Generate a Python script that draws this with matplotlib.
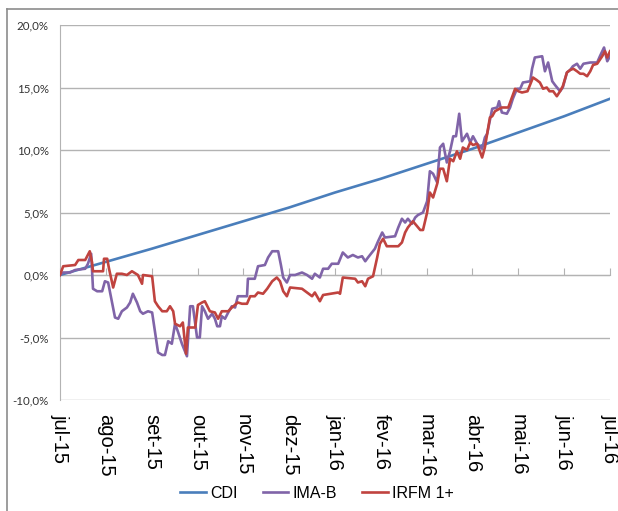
import matplotlib
matplotlib.use("Agg")
import matplotlib.pyplot as plt
from matplotlib.lines import Line2D
from matplotlib.ticker import FuncFormatter

# x values are months since jul-15 (0 = jul-15, 12 = jul-16), y values in %
month_labels = ["jul-15", "ago-15", "set-15", "out-15", "nov-15", "dez-15", "jan-16",
                "fev-16", "mar-16", "abr-16", "mai-16", "jun-16", "jul-16"]

cdi_x = [0, 1, 2, 3, 4, 5, 6, 7, 8, 9, 10, 11, 12]
cdi_y = [0.0, 1.05, 2.1, 3.2, 4.3, 5.4, 6.6, 7.7, 8.9, 10.1, 11.4, 12.7, 14.1]

imab_x = [0, 0.07, 0.22, 0.33, 0.55, 0.61, 0.68, 0.72, 0.81, 0.92, 0.98, 1.05, 1.13, 1.20,
          1.27, 1.35, 1.46, 1.53, 1.59, 1.68, 1.75, 1.81, 1.92, 2.01, 2.07, 2.14, 2.23, 2.29,
          2.36, 2.44, 2.51, 2.57, 2.66, 2.77, 2.84, 2.90, 2.99, 3.05, 3.10, 3.16, 3.23, 3.32,
          3.38, 3.43, 3.49, 3.53, 3.60, 3.67, 3.75, 3.82, 3.88, 4.08, 4.10, 4.25, 4.32, 4.47,
          4.54, 4.63, 4.76, 4.82, 4.87, 4.95, 5.02, 5.13, 5.28, 5.39, 5.50, 5.56, 5.67, 5.74,
          5.85, 5.93, 6.07, 6.17, 6.28, 6.39, 6.50, 6.59, 6.66, 6.72, 6.87, 6.94, 7.03, 7.09,
          7.31, 7.38, 7.46, 7.53, 7.59, 7.68, 7.75, 7.81, 7.92, 8.01, 8.07, 8.14, 8.23, 8.29,
          8.36, 8.44, 8.51, 8.58, 8.64, 8.71, 8.77, 8.88, 8.95, 9.01, 9.10, 9.21, 9.27, 9.32,
          9.43, 9.54, 9.58, 9.64, 9.75, 9.82, 9.88, 9.97, 10.04, 10.10, 10.26, 10.30, 10.36,
          10.52, 10.58, 10.65, 10.74, 10.80, 10.91, 10.97, 11.06, 11.13, 11.19, 11.28, 11.35,
          11.42, 11.57, 11.72, 11.78, 11.87, 11.94, 12.0]
imab_y = [0.0, 0.2, 0.2, 0.4, 0.5, 0.9, 1.7, -1.1, -1.3, -1.3, -0.5, -0.6, -2.1, -3.4,
          -3.5, -2.9, -2.6, -2.2, -1.5, -2.2, -2.9, -3.1, -2.9, -3.0, -4.5, -6.2, -6.4, -6.4,
          -5.3, -5.5, -3.9, -4.5, -5.5, -6.5, -2.5, -2.5, -5.0, -5.0, -2.5, -2.9, -3.5, -3.1,
          -3.5, -4.1, -4.1, -3.3, -3.5, -3.0, -2.5, -2.6, -1.7, -1.7, -0.3, -0.3, 0.7, 0.8,
          1.4, 1.9, 1.9, 0.8, -0.2, -0.6, 0.0, 0.0, 0.2, 0.0, -0.3, 0.1, -0.2, 0.5,
          0.5, 0.9, 0.9, 1.8, 1.4, 1.6, 1.4, 1.5, 1.1, 1.4, 2.1, 2.7, 3.4, 3.0,
          3.1, 3.8, 4.5, 4.2, 4.5, 4.1, 4.6, 4.8, 5.0, 5.9, 8.3, 8.1, 7.4, 10.2,
          10.5, 9.0, 9.9, 11.1, 11.1, 12.9, 10.7, 11.3, 10.6, 11.1, 10.5, 10.1, 11.0, 11.3,
          13.3, 13.4, 13.9, 13.0, 12.9, 13.4, 14.1, 14.9, 14.9, 15.4, 15.5, 16.5, 17.4,
          17.5, 16.3, 17.0, 15.5, 15.2, 14.7, 15.0, 16.2, 16.4, 16.7, 16.9, 16.5,
          16.9, 17.0, 17.0, 17.5, 18.2, 17.1, 17.5]

irfm_x = [0, 0.07, 0.33, 0.40, 0.55, 0.65, 0.70, 0.72, 0.94, 0.96, 1.03, 1.07, 1.16, 1.24,
          1.35, 1.46, 1.57, 1.70, 1.79, 1.81, 2.01, 2.07, 2.14, 2.23, 2.33, 2.40, 2.47, 2.51,
          2.62, 2.68, 2.75, 2.79, 2.95, 3.01, 3.10, 3.16, 3.27, 3.38, 3.45, 3.53, 3.67, 3.75,
          3.88, 3.97, 4.08, 4.15, 4.25, 4.32, 4.43, 4.52, 4.63, 4.73, 4.80, 4.87, 4.95, 5.02,
          5.28, 5.39, 5.50, 5.56, 5.67, 5.74, 6.07, 6.11, 6.17, 6.44, 6.50, 6.59, 6.66, 6.72,
          6.83, 6.92, 6.98, 7.05, 7.13, 7.38, 7.46, 7.53, 7.59, 7.70, 7.79, 7.86, 7.92, 8.01,
          8.07, 8.14, 8.23, 8.29, 8.36, 8.44, 8.51, 8.58, 8.66, 8.73, 8.79, 8.88, 8.95, 9.01,
          9.10, 9.21, 9.27, 9.38, 9.43, 9.49, 9.64, 9.78, 9.86, 9.93, 10.00, 10.08, 10.20,
          10.32, 10.40, 10.47, 10.54, 10.62, 10.68, 10.76, 10.84, 10.91, 10.97, 11.06,
          11.13, 11.20, 11.28, 11.35, 11.42, 11.50, 11.57, 11.63, 11.72, 11.83, 11.89, 11.94, 12.0]
irfm_y = [0.0, 0.7, 0.8, 1.2, 1.2, 1.9, 1.0, 0.3, 0.3, 1.3, 1.3, 0.5, -1.0, 0.1,
          0.1, 0.0, 0.3, 0.0, -0.7, 0.0, -0.1, -2.1, -2.5, -2.9, -2.9, -2.5, -2.9, -3.9,
          -4.1, -3.8, -6.3, -4.2, -4.2, -2.4, -2.2, -2.1, -2.9, -3.0, -3.5, -2.9, -2.9, -2.6,
          -2.2, -2.3, -2.3, -1.7, -1.7, -1.4, -1.5, -1.1, -0.5, -0.2, -0.5, -1.3, -1.7, -1.0,
          -1.1, -1.4, -1.7, -1.4, -2.1, -1.6, -1.4, -1.5, -0.2, -0.3, -0.6, -0.5, -0.9, -0.3,
          -0.1, 1.4, 2.5, 2.9, 2.3, 2.3, 2.6, 3.4, 3.8, 4.3, 3.9, 3.6, 3.6, 5.0,
          6.6, 6.2, 7.3, 8.5, 8.5, 7.5, 9.3, 9.1, 9.9, 9.3, 10.2, 10.0, 10.6, 10.4,
          10.5, 9.4, 10.2, 12.6, 12.7, 13.1, 13.4, 13.4, 14.2, 14.9, 14.7, 14.6, 14.7,
          15.8, 15.6, 15.4, 14.9, 15.0, 14.7, 14.7, 14.3, 14.7, 15.1, 16.2,
          16.4, 16.5, 16.3, 16.1, 16.1, 15.9, 16.3, 16.8, 16.9, 17.5, 17.9, 17.4, 17.9]

BLUE = "#4a7ebb"
PURPLE = "#8064a8"
RED = "#c0433f"
GRID = "#b3b3b3"

fig = plt.figure(figsize=(6.18, 5.11), dpi=100)
ax = fig.add_axes([60 / 618, 1 - 400 / 511, 550 / 618, 375 / 511])

ax.plot(cdi_x, cdi_y, color=BLUE, linewidth=1.9, label="CDI", zorder=3)
ax.plot(imab_x, imab_y, color=PURPLE, linewidth=1.9, label="IMA-B", zorder=4)
ax.plot(irfm_x, irfm_y, color=RED, linewidth=1.9, label="IRFM 1+", zorder=5)

ax.set_xlim(0, 12)
ax.set_ylim(-10, 20)
ax.set_yticks(range(-10, 21, 5))
ax.yaxis.set_major_formatter(FuncFormatter(lambda v, p: f"{v:.1f}%".replace(".", ",")))
ax.grid(axis="y", color=GRID, linewidth=1.0)
ax.set_axisbelow(True)
for s in ["top", "right"]:
    ax.spines[s].set_visible(False)
ax.spines["left"].set_color(GRID)
ax.tick_params(axis="y", length=0, pad=8, labelsize=8.3, labelcolor="#333333")
for t in ax.get_yticklabels():
    t.set_fontfamily("Lato")

# category axis crossing at 0% with tick marks pointing up
ax.spines["bottom"].set_position(("data", 0))
ax.spines["bottom"].set_color(GRID)
ax.set_xticks(range(13))
ax.tick_params(axis="x", direction="in", length=5, color=GRID, labelbottom=False)

# month labels at the bottom of the plot area
lab = ax.secondary_xaxis("bottom")
lab.set_xticks(range(13))
lab.set_xticklabels(month_labels, rotation=270, fontsize=14.5, fontfamily="Liberation Sans",
                    ha="center", va="top")
lab.tick_params(axis="x", length=0, pad=10)
lab.spines["bottom"].set_visible(False)

fig.legend(loc="center", bbox_to_anchor=(317 / 618, 1 - 493 / 511), ncol=3, frameon=False,
           prop={"family": "Liberation Sans", "size": 11.5}, handlelength=1.6,
           handletextpad=0.25, columnspacing=1.6)

# outer chart border
fig.add_artist(Line2D([7 / 618, 7 / 618], [0, 1 - 9 / 511], color="#8c8c8c", linewidth=1.2,
                      transform=fig.transFigure))
fig.add_artist(Line2D([7 / 618, 1], [1 - 9 / 511, 1 - 9 / 511], color="#8c8c8c", linewidth=1.2,
                      transform=fig.transFigure))

fig.savefig("out.png", dpi=100)
